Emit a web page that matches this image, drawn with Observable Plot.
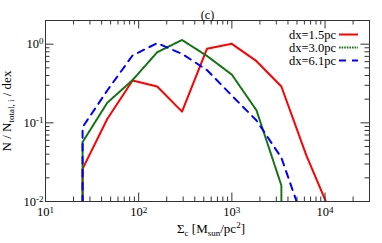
<!DOCTYPE html>
<html><head><meta charset="utf-8">
<script src="https://cdn.jsdelivr.net/npm/d3@7"></script>
<script src="https://cdn.jsdelivr.net/npm/@observablehq/plot@0.6"></script>
<style>
body{margin:0;background:#fff;}
#chart svg{font-family:"Liberation Serif","DejaVu Serif",serif;}
</style></head><body><div id="chart"></div>
<script>
// Bin centres (Sigma_c, Msun/pc^2) and normalised counts N / N_total,i / dex
const bins = [25, 46, 86, 158, 292, 540, 1000, 1840, 3400, 6300, 11600];
const dx15 = [0.026, 0.112, 0.345, 0.29, 0.139, 0.873, 1.01, 0.608, 0.29, 0.0385, 0.007];
const dx30 = [0.057, 0.18, 0.35, 0.79, 1.13, 0.71, 0.41, 0.144, 0.016, 0, 0];
const dx61 = [0.088, 0.258, 0.72, 1.03, 0.753, 0.47, 0.222, 0.107, 0.036, 0.0044, 0];
const seriesNames = ["dx=1.5pc", "dx=3.0pc", "dx=6.1pc"];
const seriesColors = ["#ff0000", "#127312", "#0000ff"];
const seriesDash = [null, "1.6,1", "7,6"];

const xMajor = [10, 100, 1000, 10000];
const xMinor = [20,30,40,50,60,70,80,90,200,300,400,500,600,700,800,900,2000,3000,4000,5000,6000,7000,8000,9000,20000];
const yMajor = [0.01, 0.1, 1];
const yMinor = [0.02,0.03,0.04,0.05,0.06,0.07,0.08,0.09,0.2,0.3,0.4,0.5,0.6,0.7,0.8,0.9];
const xTickLabels = ["10^1", "10^2", "10^3", "10^4"];
const yTickLabels = ["10^-2", "10^-1", "10^0"];

// zero bins: drop vertically to below the axis at the neighbouring non-zero bin
const FLOOR = 1e-4;
function toLine(values, name) {
  const pts = [];
  values.forEach((v, i) => {
    const prev = i > 0 ? values[i - 1] : 0;
    const next = i < values.length - 1 ? values[i + 1] : 1;
    if (v > 0) {
      if (!(prev > 0)) pts.push({x: bins[i], y: FLOOR, s: name});
      pts.push({x: bins[i], y: v, s: name});
      if (!(next > 0)) pts.push({x: bins[i], y: FLOOR, s: name});
    }
  });
  return pts;
}
const lines = [dx15, dx30, dx61].map((v, i) => toLine(v, seriesNames[i]));

const W = 382, H = 243, mL = 45, mR = 13, mT = 20, mB = 42;
const fW = W - mL - mR, fH = H - mT - mB;
const tickCol = "#333";
const maj = 8.5, mnr = 4.5;

const plot = Plot.plot({
  width: W, height: H,
  marginLeft: mL, marginRight: mR, marginTop: mT, marginBottom: mB,
  x: {type: "log", domain: [10, 30000], label: null},
  y: {type: "log", domain: [0.01, 2], label: null},
  style: {fontFamily: "Liberation Serif, serif", fontSize: "12.5px", color: "#000", background: "#fff"},
  marks: [
    ...lines.map((pts, i) => Plot.line(pts, {x: "x", y: "y", stroke: seriesColors[i], strokeWidth: 2, strokeDasharray: seriesDash[i], clip: true})),
    Plot.frame({stroke: tickCol, strokeWidth: 1}),
    // inward ticks on all four sides
    Plot.tickX(xMajor, {x: d => d, stroke: tickCol, insetTop: fH - maj}),
    Plot.tickX(xMinor, {x: d => d, stroke: tickCol, insetTop: fH - mnr}),
    Plot.tickX(xMajor, {x: d => d, stroke: tickCol, insetBottom: fH - maj}),
    Plot.tickX(xMinor, {x: d => d, stroke: tickCol, insetBottom: fH - mnr}),
    Plot.tickY(yMajor, {y: d => d, stroke: tickCol, insetRight: fW - maj}),
    Plot.tickY(yMinor, {y: d => d, stroke: tickCol, insetRight: fW - mnr}),
    Plot.tickY(yMajor, {y: d => d, stroke: tickCol, insetLeft: fW - maj}),
    Plot.tickY(yMinor, {y: d => d, stroke: tickCol, insetLeft: fW - mnr}),
    Plot.axisX(xMajor, {anchor: "bottom", tickSize: 0, tickPadding: 6, tickFormat: d => xTickLabels[xMajor.indexOf(d)], fontSize: 12.5, label: null}),
    Plot.axisY(yMajor, {anchor: "left", tickSize: 0, tickPadding: 2, tickFormat: d => yTickLabels[yMajor.indexOf(d)], fontSize: 12.5, label: null}),
    Plot.text(["(c)"], {frameAnchor: "top", dy: -10, fontSize: 12})
  ]
});
document.getElementById("chart").appendChild(plot);

const svg = d3.select(plot);
// superscripts for tick labels
svg.selectAll("text").each(function() {
  const el = d3.select(this);
  const m = /^10\^(-?\d+)$/.exec(el.text());
  if (m) {
    el.text("10");
    el.append("tspan").attr("dy", "-0.42em").attr("font-size", "9px").text(m[1]);
  }
});

// axis titles
const xl = svg.append("text").attr("x", 211).attr("y", 233).attr("text-anchor", "middle")
  .attr("font-size", "13px").attr("fill", "#000");
xl.append("tspan").text("Σ");
xl.append("tspan").attr("font-size", "9px").attr("dy", 3).text("c");
xl.append("tspan").attr("dy", -3).text(" [M");
xl.append("tspan").attr("font-size", "9px").attr("dy", 3).text("sun");
xl.append("tspan").attr("dy", -3).text("/pc");
xl.append("tspan").attr("font-size", "9px").attr("dy", -5).text("2");
xl.append("tspan").attr("dy", 5).text("]");

const yl = svg.append("text").attr("transform", "translate(11,111) rotate(-90)").attr("text-anchor", "middle")
  .attr("font-size", "13px").attr("fill", "#000");
yl.append("tspan").text("N / N");
yl.append("tspan").attr("font-size", "9px").attr("dy", 3).text("total, i");
yl.append("tspan").attr("dy", -3).text(" / dex");

// legend
const lg = svg.append("g");
seriesNames.forEach((name, i) => {
  const y = 34.5 + 13 * i;
  lg.append("text").attr("x", 336).attr("y", y).attr("dy", "0.35em").attr("text-anchor", "end")
    .attr("font-size", "12.5px").attr("fill", "#000").text(name);
  lg.append("line").attr("x1", 339).attr("x2", 358).attr("y1", y).attr("y2", y)
    .attr("stroke", seriesColors[i]).attr("stroke-width", 2)
    .attr("stroke-dasharray", seriesDash[i]);
});
</script></body></html>
